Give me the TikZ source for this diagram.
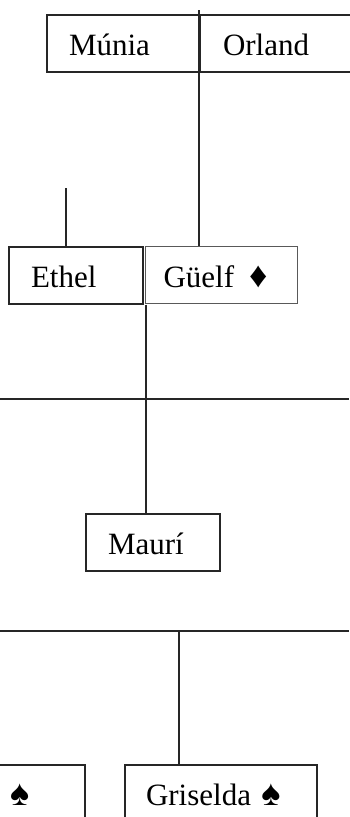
\documentclass[tikz,border=0pt]{standalone}
\usepackage{fontspec}
\setmainfont{Liberation Serif}
\usetikzlibrary{positioning}
\newcommand{\suit}[1]{{\fontsize{36}{36}\selectfont #1}}
\begin{document}
\begin{tikzpicture}[x=1pt,y=-1pt,
	person/.style={draw=black!85,line width=2pt,anchor=north west,inner xsep=22pt,inner ysep=0pt,minimum height=57pt,text height=27pt,text depth=3pt,align=left,font=\fontsize{31}{36}\selectfont},
	link/.style={draw=black!85,line width=2pt}]
	\useasboundingbox (0,0) rectangle (349,817);
	
	% parents
	\node[person,text width=109pt] (munia) at (46,14) {Múnia};
	\node[person,text width=126pt,inner xsep=23pt] (orland) at (199,14) {Orland};
	
	% couple
	\node[person,text width=90pt] (ethel) at (8,246) {Ethel};
	\node[person,draw=black!65,line width=1pt,text width=116pt,inner xsep=18pt] (guelf) at (145,246) {Güelf\hspace{15pt}\suit{♦}};
	
	% child
	\node[person,text width=90pt] (mauri) at (85,513) {Maurí};
	
	% children
	\node[person,anchor=north east,text width=53pt] (kid) at (86,764) {\suit{♠}};
	\node[person,text width=150pt,inner xsep=21pt] (griselda) at (124,764) {Griselda \suit{♠}};
	
	\coordinate (top) at (199,10);
	\coordinate (ethelup) at (66,188);
	\coordinate (rowA west) at (0,399);
	\coordinate (rowA east) at (349,399);
	\coordinate (rowB west) at (0,631);
	\coordinate (rowB east) at (349,631);
	\coordinate (sib) at (179,631);
	
	\draw[link] (top)--(top |- guelf.north)
	(ethelup)--(ethelup |- ethel.north)
	([xshift=2pt]ethel.south east)--([xshift=2pt]ethel.south east |- mauri.north)
	(rowA west)--(rowA east)
	(rowB west)--(rowB east)
	(sib)--(sib |- griselda.north);
\end{tikzpicture}
\end{document}
